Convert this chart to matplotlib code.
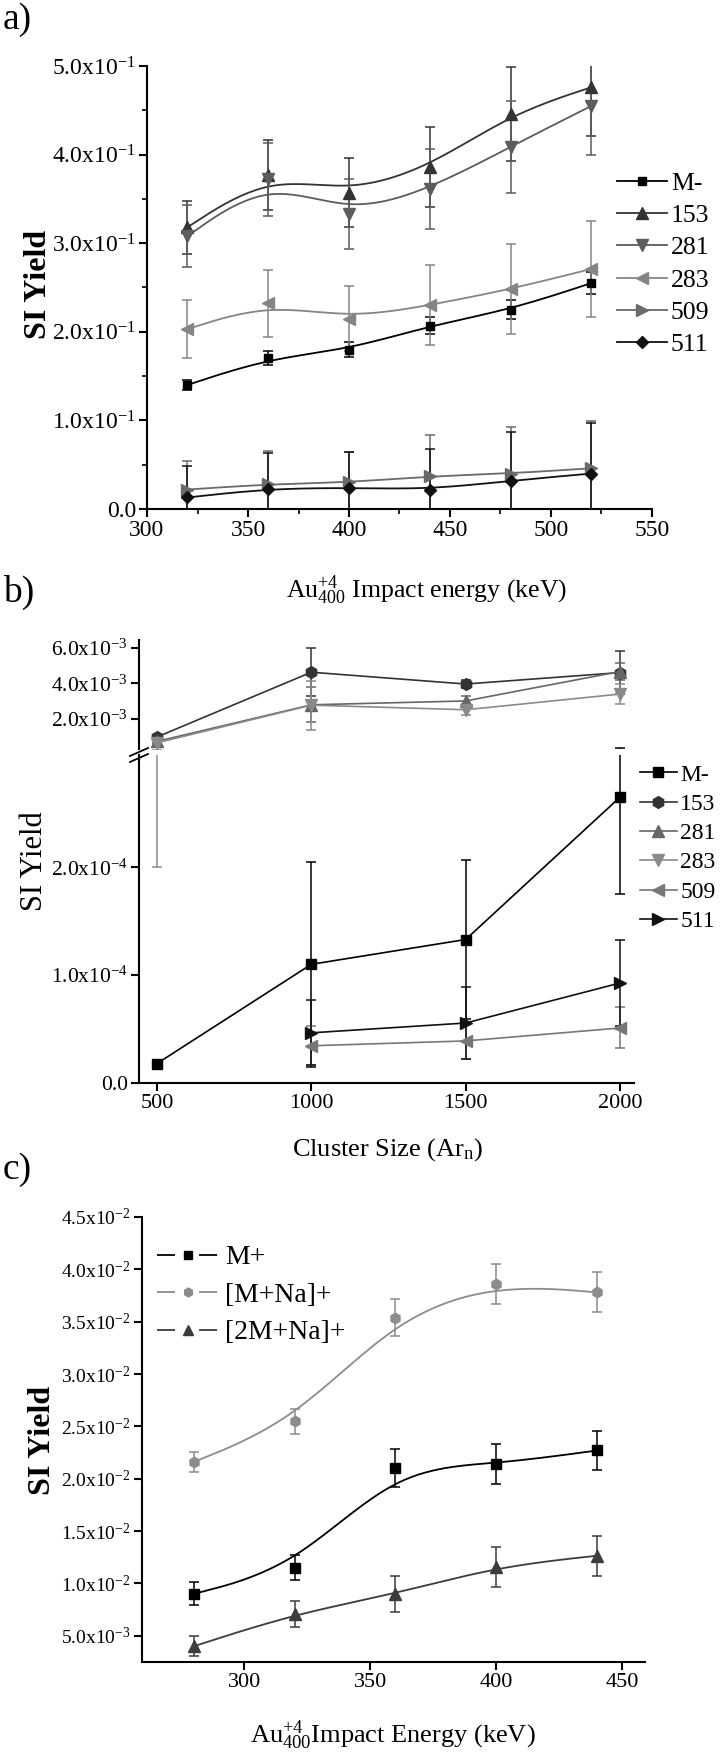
import numpy as np
import matplotlib
matplotlib.use("Agg")
import matplotlib.pyplot as plt
from matplotlib.lines import Line2D
from matplotlib.ticker import FixedLocator, MultipleLocator

plt.rcParams['font.family'] = ['Liberation Serif', 'DejaVu Serif']
plt.rcParams['mathtext.fontset'] = 'custom'
plt.rcParams['mathtext.rm'] = 'Liberation Serif'
plt.rcParams['mathtext.it'] = 'Liberation Serif:italic'
plt.rcParams['mathtext.bf'] = 'Liberation Serif:bold'

# ---- panel a : Au400 impact energy, negative ions ----
a_energy = [320, 360, 400, 440, 480, 520]
a_names = ['M-', '153', '281', '283', '509', '511']
a_M = [0.140, 0.170, 0.180, 0.207, 0.225, 0.255]
a_M_err = [0.006, 0.008, 0.008, 0.010, 0.011, 0.012]
a_153 = [0.318, 0.377, 0.357, 0.386, 0.446, 0.476]
a_153_err = [0.030, 0.040, 0.039, 0.045, 0.053, 0.055]
a_281 = [0.308, 0.372, 0.333, 0.361, 0.409, 0.455]
a_281_err = [0.035, 0.041, 0.039, 0.045, 0.052, 0.055]
a_283 = [0.203, 0.232, 0.215, 0.230, 0.248, 0.271]
a_283_err = [0.033, 0.038, 0.037, 0.045, 0.051, 0.054]
a_509 = [0.022, 0.028, 0.030, 0.037, 0.040, 0.046]
a_509_err = [0.032, 0.038, 0.034, 0.046, 0.053, 0.053]
a_511 = [0.013, 0.023, 0.024, 0.022, 0.032, 0.040]
a_511_err = [0.035, 0.040, 0.040, 0.046, 0.055, 0.057]
a_yticks = [0.0, 0.1, 0.2, 0.3, 0.4, 0.5]
a_yticklabels = ['0.0', '1.0x10$^{-1}$', '2.0x10$^{-1}$', '3.0x10$^{-1}$',
                 '4.0x10$^{-1}$', '5.0x10$^{-1}$']

# ---- panel b : Ar cluster size ----
b_size = [500, 1000, 1500, 2000]
b_size_hi = [1000, 1500, 2000]
b_names = ['M-', '153', '281', '283', '509', '511']
b_M = [1.8e-5, 1.10e-4, 1.33e-4, 2.65e-4]
b_M_err = [0.0, 0.95e-4, 0.74e-4, 0.90e-4]
b_153 = [0.95e-3, 4.63e-3, 3.96e-3, 4.61e-3]
b_153_err = [0.10e-3, 1.37e-3, 0.25e-3, 1.20e-3]
b_281 = [0.70e-3, 2.78e-3, 3.00e-3, 4.67e-3]
b_281_err = [0.10e-3, 1.00e-3, 0.30e-3, 0.50e-3]
b_283 = [0.62e-3, 2.76e-3, 2.50e-3, 3.39e-3]
b_283_err = [0.42e-3, 1.40e-3, 0.30e-3, 0.55e-3]
b_509 = [3.45e-5, 3.9e-5, 5.1e-5]
b_509_err = [1.8e-5, 1.7e-5, 1.9e-5]
b_511 = [4.65e-5, 5.56e-5, 9.27e-5]
b_511_err = [3.0e-5, 3.3e-5, 4.0e-5]
b_hi_ticks = [2e-3, 4e-3, 6e-3]
b_hi_labels = ['2.0x10$^{-3}$', '4.0x10$^{-3}$', '6.0x10$^{-3}$']
b_lo_ticks = [0.0, 1e-4, 2e-4]
b_lo_labels = ['0.0', '1.0x10$^{-4}$', '2.0x10$^{-4}$']

# ---- panel c : Au400 impact energy, positive ions ----
c_energy = [280, 320, 360, 400, 440]
c_names = ['M+', '[M+Na]+', '[2M+Na]+']
c_M = [9.0e-3, 11.5e-3, 21.0e-3, 21.4e-3, 22.7e-3]
c_M_err = [1.1e-3, 1.2e-3, 1.8e-3, 1.9e-3, 1.9e-3]
c_MNa = [21.6e-3, 25.5e-3, 35.4e-3, 38.6e-3, 37.8e-3]
c_MNa_err = [1.0e-3, 1.2e-3, 1.75e-3, 1.9e-3, 1.9e-3]
c_2MNa = [4.0e-3, 7.1e-3, 9.0e-3, 11.6e-3, 12.65e-3]
c_2MNa_err = [0.95e-3, 1.25e-3, 1.75e-3, 1.9e-3, 1.9e-3]
c_yticks = [5e-3, 1e-2, 1.5e-2, 2e-2, 2.5e-2, 3e-2, 3.5e-2, 4e-2, 4.5e-2]
c_yticklabels = ['5.0x10$^{-3}$', '1.0x10$^{-2}$', '1.5x10$^{-2}$', '2.0x10$^{-2}$',
                 '2.5x10$^{-2}$', '3.0x10$^{-2}$', '3.5x10$^{-2}$', '4.0x10$^{-2}$',
                 '4.5x10$^{-2}$']

W, H = 720, 1757
fig = plt.figure(figsize=(W / 100, H / 100), dpi=100)


def box(l, t, r, b):
    return [l / W, 1 - b / H, (r - l) / W, (b - t) / H]


def fx(x):
    return x / W


def fy(y):
    return 1 - y / H


def bspline(xs, ys, n=30):
    # Origin style B-spline through the points (ends clamped)
    xs = np.asarray(xs, float)
    ys = np.asarray(ys, float)
    px_ = np.r_[xs[0], xs[0], xs, xs[-1], xs[-1]]
    py_ = np.r_[ys[0], ys[0], ys, ys[-1], ys[-1]]
    t = np.linspace(0, 1, n, endpoint=False)
    b0 = (1 - t) ** 3 / 6
    b1 = (3 * t ** 3 - 6 * t ** 2 + 4) / 6
    b2 = (-3 * t ** 3 + 3 * t ** 2 + 3 * t + 1) / 6
    b3 = t ** 3 / 6
    ox, oy = [], []
    for i in range(len(px_) - 3):
        ox.append(b0 * px_[i] + b1 * px_[i + 1] + b2 * px_[i + 2] + b3 * px_[i + 3])
        oy.append(b0 * py_[i] + b1 * py_[i + 1] + b2 * py_[i + 2] + b3 * py_[i + 3])
    ox.append([xs[-1]])
    oy.append([ys[-1]])
    return np.concatenate(ox), np.concatenate(oy)


def style_axes(ax, fs):
    for s in ['top', 'right']:
        ax.spines[s].set_visible(False)
    for s in ['left', 'bottom']:
        ax.spines[s].set_linewidth(1.5)
    ax.tick_params(which='major', direction='out', length=6, width=1.5,
                   labelsize=fs, pad=2)
    ax.tick_params(which='minor', direction='out', length=3.5, width=1.2)


def smooth_series(ax, x, y, e, marker, ms, color):
    sx, sy = bspline(x, y)
    ax.plot(sx, sy, '-', color=color, lw=1.3, zorder=2)
    ax.errorbar(x, y, yerr=e, fmt='none', ecolor=color, elinewidth=1.1,
                capsize=3.5, capthick=1.1, zorder=3)
    ax.plot(x, y, ls='none', marker=marker, ms=ms, color=color, zorder=4)


# ================= panel a =================
ax = fig.add_axes(box(147, 66, 652, 509))
a_series = [
    (a_M, a_M_err, 's', 6, '#000000'),
    (a_153, a_153_err, '^', 8.5, '#333333'),
    (a_281, a_281_err, 'v', 8.5, '#5c5c5c'),
    (a_283, a_283_err, '<', 8.5, '#858585'),
    (a_509, a_509_err, '>', 8.5, '#6a6a6a'),
    (a_511, a_511_err, 'D', 6.5, '#111111'),
]
handles = []
for name, (y, e, m, ms, c) in zip(a_names, a_series):
    smooth_series(ax, a_energy, y, e, m, ms, c)
    handles.append(Line2D([], [], color=c, lw=1.3, marker=m, ms=ms, label=name))
ax.set_xlim(300, 550)
ax.set_ylim(0, 0.5)
ax.xaxis.set_major_locator(MultipleLocator(50))
ax.xaxis.set_minor_locator(MultipleLocator(25))
ax.yaxis.set_major_locator(FixedLocator(a_yticks))
ax.set_yticklabels(a_yticklabels)
ax.yaxis.set_minor_locator(MultipleLocator(0.05))
style_axes(ax, 17)
ax.legend(handles=handles, loc='upper left', bbox_to_anchor=(fx(617), fy(172)),
          bbox_transform=fig.transFigure, frameon=False, borderpad=0,
          borderaxespad=0, handlelength=1.95, handletextpad=0.15,
          labelspacing=0.36, fontsize=18.5)
fig.text(fx(3), fy(20), 'a)', fontsize=27, va='center', ha='left')
fig.text(fx(39), fy(284), 'SI Yield', fontsize=23, fontweight='bold',
         rotation=90, va='center', ha='center')
fig.text(fx(427), fy(590), r'Au$_{400}^{+4}$ Impact energy (keV)', fontsize=18.5,
         va='center', ha='center')

# ================= panel b (broken axis) =================
axh = fig.add_axes(box(139, 640, 634, 749))
axl = fig.add_axes(box(139, 755, 634, 1083))
lo_top = 3.04e-4
b_series = [
    (b_size, b_M, b_M_err, 's', 7.5, '#000000'),
    (b_size, b_153, b_153_err, 'h', 8.5, '#333333'),
    (b_size, b_281, b_281_err, '^', 8, '#666666'),
    (b_size, b_283, b_283_err, 'v', 8, '#8a8a8a'),
    (b_size_hi, b_509, b_509_err, '<', 8, '#777777'),
    (b_size_hi, b_511, b_511_err, '>', 8, '#111111'),
]
upper_names = ['153', '281', '283']
handles = []
for name, (x, y, e, m, ms, c) in zip(b_names, b_series):
    axl.errorbar(x, y, yerr=e, fmt='-', color=c, lw=1.2, marker=m, ms=ms,
                 elinewidth=1.1, capsize=3.5, capthick=1.1)
    if name in upper_names:
        axh.errorbar(x, y, yerr=e, fmt='-', color=c, lw=1.2, marker=m, ms=ms,
                     elinewidth=1.1, capsize=3.5, capthick=1.1)
    elif name == 'M-':
        # only the bar that runs past the break shows above it
        xa, ya, ea = np.array(x), np.array(y), np.array(e)
        over = ya + ea > lo_top
        axh.errorbar(xa[over], ya[over], yerr=ea[over], fmt='none', ecolor=c,
                     elinewidth=1.1, capsize=3.5, capthick=1.1)
    handles.append(Line2D([], [], color=c, lw=1.2, marker=m, ms=ms, label=name))
for a_ in (axh, axl):
    a_.set_xlim(442, 2045)
    style_axes(a_, 15.5)
axh.set_ylim(0.27e-3, 6.46e-3)
axl.set_ylim(0, lo_top)
axh.spines['bottom'].set_visible(False)
axh.xaxis.set_visible(False)
axh.yaxis.set_major_locator(FixedLocator(b_hi_ticks))
axh.set_yticklabels(b_hi_labels)
axl.yaxis.set_major_locator(FixedLocator(b_lo_ticks))
axl.set_yticklabels(b_lo_labels)
axl.xaxis.set_major_locator(FixedLocator(b_size))
axl.tick_params(axis='x', labelsize=16)
for y0 in (752, 758):
    fig.add_artist(Line2D([fx(130), fx(148)], [fy(y0 + 4), fy(y0 - 4)],
                          transform=fig.transFigure, color='black', lw=1.3))
axl.legend(handles=handles, loc='upper left', bbox_to_anchor=(fx(640), fy(764)),
           bbox_transform=fig.transFigure, frameon=False, borderpad=0,
           borderaxespad=0, handlelength=1.55, handletextpad=0.15,
           labelspacing=0.33, fontsize=17)
fig.text(fx(3), fy(592), 'b)', fontsize=27, va='center', ha='left')
fig.text(fx(35), fy(861), 'SI Yield', fontsize=22, rotation=90,
         va='center', ha='center')
fig.text(fx(388), fy(1150), r'Cluster Size (Ar$_{\mathrm{n}}$)', fontsize=19,
         va='center', ha='center')

# ================= panel c =================
ax = fig.add_axes(box(142, 1217, 645, 1662))
c_series = [
    (c_M, c_M_err, 's', 7, '#000000'),
    (c_MNa, c_MNa_err, 'h', 7.5, '#8c8c8c'),
    (c_2MNa, c_2MNa_err, '^', 9, '#3c3c3c'),
]
handles = []
for name, (y, e, m, ms, c) in zip(c_names, c_series):
    smooth_series(ax, c_energy, y, e, m, ms, c)
    handles.append(Line2D([], [], color=c, lw=1.3, marker=m, ms=ms * 0.85,
                          ls=(0, (10, 13.3)), label=name))
ax.set_xlim(259.5, 459)
ax.set_ylim(2.5e-3, 4.5e-2)
ax.xaxis.set_major_locator(MultipleLocator(50))
ax.yaxis.set_major_locator(FixedLocator(c_yticks))
ax.set_yticklabels(c_yticklabels)
style_axes(ax, 14)
ax.tick_params(axis='x', labelsize=16)
ax.legend(handles=handles, loc='upper left', bbox_to_anchor=(fx(157), fy(1245)),
          bbox_transform=fig.transFigure, frameon=False, borderpad=0,
          borderaxespad=0, handlelength=2.2, handletextpad=0.25,
          labelspacing=0.43, fontsize=20)
fig.text(fx(3), fy(1170), 'c)', fontsize=27, va='center', ha='left')
fig.text(fx(42), fy(1440), 'SI Yield', fontsize=23, fontweight='bold',
         rotation=90, va='center', ha='center')
fig.text(fx(393), fy(1735), r'Au$_{400}^{+4}$Impact Energy (keV)', fontsize=19,
         va='center', ha='center')

fig.savefig('out.png', dpi=100)
